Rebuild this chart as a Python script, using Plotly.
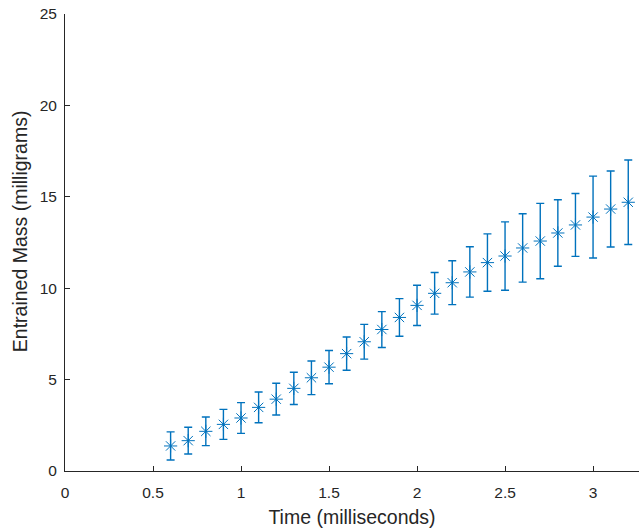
import plotly.graph_objects as go

time_ms = [0.6, 0.7, 0.8, 0.9, 1.0, 1.1, 1.2, 1.3, 1.4, 1.5, 1.6, 1.7, 1.8, 1.9,
           2.0, 2.1, 2.2, 2.3, 2.4, 2.5, 2.6, 2.7, 2.8, 2.9, 3.0, 3.1, 3.2]
mass_mg = [1.37, 1.66, 2.17, 2.55, 2.90, 3.48, 3.93, 4.52, 5.10, 5.68, 6.42, 7.07, 7.74, 8.40,
           9.06, 9.72, 10.30, 10.89, 11.40, 11.76, 12.20, 12.58, 13.02, 13.46, 13.89, 14.33, 14.70]
mass_err = [0.77, 0.73, 0.78, 0.82, 0.84, 0.84, 0.87, 0.88, 0.92, 0.91, 0.91, 0.95, 0.98, 1.03,
            1.10, 1.14, 1.20, 1.38, 1.57, 1.87, 1.87, 2.06, 1.82, 1.72, 2.24, 2.08, 2.31]

x_ticks = [0, 0.5, 1, 1.5, 2, 2.5, 3]
x_tick_labels = ["0", "0.5", "1", "1.5", "2", "2.5", "3"]
y_ticks = [0, 5, 10, 15, 20, 25]
y_tick_labels = ["0", "5", "10", "15", "20", "25"]

x_title = "Time (milliseconds)"
y_title = "Entrained Mass (milligrams)"

blue = "#0072BD"
axis_col = "#262626"

fig = go.Figure()
fig.add_trace(go.Scatter(
    x=time_ms, y=mass_mg, mode="markers", cliponaxis=False,
    marker=dict(symbol="asterisk-open", size=11, color=blue,
                line=dict(color=blue, width=1)),
    error_y=dict(type="data", array=mass_err, visible=True,
                 color=blue, thickness=1.4, width=4),
    showlegend=False,
))

font = dict(family="Liberation Sans, Arial, sans-serif", size=15.5, color=axis_col)
title_font = dict(family="Liberation Sans, Arial, sans-serif", size=19.5, color=axis_col)

fig.update_layout(
    width=639, height=531,
    margin=dict(l=65, r=0, t=14, b=60, autoexpand=False),
    paper_bgcolor="white", plot_bgcolor="white",
    font=font,
    xaxis=dict(
        range=[0, 3.261], tickvals=x_ticks, ticktext=x_tick_labels,
        ticks="inside", ticklen=5, tickcolor=axis_col, tickwidth=1,
        showline=True, linecolor=axis_col, linewidth=1,
        showgrid=False, zeroline=False, automargin=False,
        ticklabelstandoff=7,
        title=dict(text=x_title, font=title_font, standoff=10),
    ),
    yaxis=dict(
        range=[0, 25], tickvals=y_ticks, ticktext=y_tick_labels,
        ticks="inside", ticklen=5, tickcolor=axis_col, tickwidth=1,
        showline=True, linecolor=axis_col, linewidth=1,
        showgrid=False, zeroline=False, automargin=False,
        ticklabelstandoff=4,
    ),
    annotations=[dict(
        text=y_title, textangle=-90, font=title_font, showarrow=False,
        xref="paper", yref="paper", x=-0.079, y=0.524,
        xanchor="center", yanchor="middle",
    )],
)

fig.write_html("out.html", config={"displayModeBar": False},
               post_script="document.body.style.margin='0';document.body.style.overflow='hidden';")
